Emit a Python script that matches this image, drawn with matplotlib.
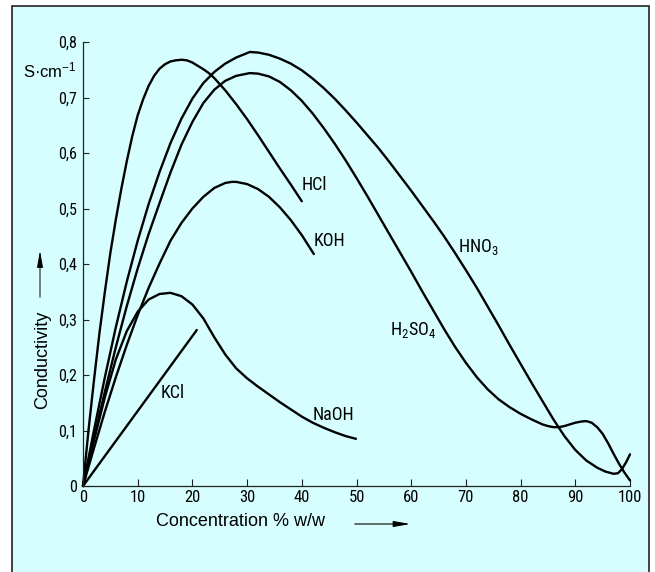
import matplotlib
matplotlib.use('Agg')
import matplotlib.pyplot as plt
from matplotlib.patches import Rectangle, FancyArrowPatch
from matplotlib import font_manager
from matplotlib.font_manager import FontProperties


def has_font(name):
    try:
        font_manager.findfont(name, fallback_to_default=False)
        return True
    except Exception:
        return False


def pick_narrow():
    for name in ['Liberation Sans Narrow', 'Arial Narrow', 'Roboto Condensed', 'Open Sans Condensed',
                 'Noto Sans Condensed', 'DejaVu Sans Condensed']:
        if has_font(name):
            return {'family': name}, name, True
    for fam in ['Roboto', 'Noto Sans', 'Open Sans', 'DejaVu Sans']:
        try:
            f = font_manager.findfont(FontProperties(family=fam, stretch='condensed'), fallback_to_default=False)
            if 'ondensed' in f or 'arrow' in f:
                return {'family': fam, 'stretch': 'condensed'}, fam, True
        except Exception:
            pass
    return {'family': 'Liberation Sans'}, 'Liberation Sans', False


NARROW_KW, NARROW_NAME, IS_NARROW = pick_narrow()
REG = 'Liberation Sans'
plt.rcParams['font.family'] = [REG, 'DejaVu Sans']
plt.rcParams['mathtext.fontset'] = 'custom'
plt.rcParams['mathtext.rm'] = NARROW_NAME
plt.rcParams['mathtext.it'] = NARROW_NAME
plt.rcParams['mathtext.default'] = 'regular'

# ---------------- data ----------------
hcl_x = [0, 1, 2, 3, 4, 5, 6, 7, 8, 9, 10, 11, 12, 13, 14, 15, 16, 17, 18, 19, 20, 21, 22, 23, 24, 25, 26,
         28, 30, 32, 34, 36, 38, 40]
hcl_y = [0, 0.1, 0.19, 0.275, 0.35, 0.42, 0.48, 0.535, 0.585, 0.63, 0.668, 0.697, 0.721, 0.739, 0.752, 0.76,
         0.765, 0.767, 0.768, 0.767, 0.763, 0.757, 0.751, 0.744, 0.735, 0.724, 0.713, 0.688, 0.661, 0.632,
         0.602, 0.572, 0.543, 0.513]

hno3_x = [0, 2, 4, 6, 8, 10, 12, 14, 16, 18, 20, 22, 24, 26, 28, 30.5, 32, 34, 36, 38, 40, 42, 44, 46, 48, 50,
          52, 54, 56, 58, 60, 62, 64, 66, 68, 70, 72, 74, 76, 78, 80, 82, 84, 86, 88, 90, 92, 94, 95.5, 97,
          97.8, 98.5, 99.3, 100]
hno3_y = [0, 0.1, 0.196, 0.286, 0.368, 0.442, 0.508, 0.566, 0.618, 0.662, 0.698, 0.726, 0.746, 0.761, 0.772,
          0.782, 0.781, 0.777, 0.77, 0.761, 0.749, 0.734, 0.717, 0.698, 0.677, 0.655, 0.632, 0.609, 0.584,
          0.558, 0.532, 0.505, 0.478, 0.45, 0.42, 0.389, 0.357, 0.323, 0.289, 0.254, 0.22, 0.186, 0.153, 0.12,
          0.09, 0.065, 0.046, 0.033, 0.026, 0.022, 0.023, 0.03, 0.043, 0.057]

h2so4_x = [0, 2, 4, 6, 8, 10, 12, 14, 16, 18, 20, 22, 24, 26, 28, 30.5, 32, 34, 36, 38, 40, 42, 44, 46, 48, 50,
           52, 54, 56, 58, 60, 62, 64, 66, 68, 70, 72, 74, 76, 78, 80, 82, 84, 85, 86, 87, 88, 89, 90, 91, 92,
           93, 94, 95, 96, 97, 98, 99, 100]
h2so4_y = [0, 0.086, 0.17, 0.25, 0.324, 0.392, 0.454, 0.51, 0.565, 0.615, 0.656, 0.69, 0.714, 0.73, 0.739,
           0.744, 0.743, 0.738, 0.728, 0.713, 0.694, 0.671, 0.645, 0.617, 0.587, 0.555, 0.522, 0.488, 0.454,
           0.42, 0.386, 0.351, 0.317, 0.283, 0.251, 0.222, 0.196, 0.174, 0.156, 0.142, 0.13, 0.12, 0.111,
           0.108, 0.106, 0.106, 0.108, 0.111, 0.114, 0.116, 0.117, 0.114, 0.106, 0.094, 0.077, 0.058, 0.04,
           0.024, 0.01]

koh_x = [0, 2, 4, 6, 8, 10, 12, 14, 16, 18, 20, 22, 24, 26, 27.2, 28, 30, 32, 34, 36, 38, 40, 42.2]
koh_y = [0, 0.068, 0.134, 0.196, 0.254, 0.308, 0.357, 0.401, 0.442, 0.474, 0.5, 0.521, 0.537, 0.546, 0.548,
         0.548, 0.544, 0.535, 0.521, 0.502, 0.479, 0.452, 0.418]

naoh_x = [0, 2, 4, 6, 8, 10, 12, 14, 16, 18, 20, 22, 24, 26, 28, 30, 32, 34, 36, 38, 40, 42, 44, 46, 48, 49.9]
naoh_y = [0, 0.082, 0.16, 0.228, 0.279, 0.314, 0.336, 0.346, 0.348, 0.342, 0.327, 0.302, 0.268, 0.237, 0.212,
          0.194, 0.179, 0.165, 0.151, 0.138, 0.125, 0.114, 0.105, 0.097, 0.09, 0.085]

kcl_x = [0, 20.8]
kcl_y = [0, 0.281]

series = [(hcl_x, hcl_y), (hno3_x, hno3_y), (h2so4_x, h2so4_y), (koh_x, koh_y), (naoh_x, naoh_y), (kcl_x, kcl_y)]

curve_labels = ['HCl', 'KOH', 'HNO$_3$', 'H$_2$SO$_4$', 'KCl', 'NaOH']
label_pos = [(40, 0.542), (42.2, 0.441), (68.6, 0.43), (56.1, 0.281), (14.1, 0.168), (41.9, 0.128)]

x_ticks = [0, 10, 20, 30, 40, 50, 60, 70, 80, 90, 100]
x_tick_labels = ['0', '10', '20', '30', '40', '50', '60', '70', '80', '90', '100']
y_ticks = [0, 0.1, 0.2, 0.3, 0.4, 0.5, 0.6, 0.7, 0.8]
y_tick_labels = ['0', '0,1', '0,2', '0,3', '0,4', '0,5', '0,6', '0,7', '0,8']

# ---------------- figure ----------------
W, H = 655, 572
fig = plt.figure(figsize=(W / 100, H / 100), dpi=100, facecolor='white')
BG = '#d6fefe'
fig.patches.append(Rectangle((12 / W, -0.02), (649 - 12) / W, 1.02 - 6 / H, transform=fig.transFigure,
                             facecolor=BG, edgecolor='#222222', lw=1.2, zorder=-10))

ax = fig.add_axes([83 / W, 1 - 486 / H, (630 - 83) / W, (486 - 42) / H])
ax.set_zorder(1)
ax.set_facecolor('none')
ax.set_xlim(0, 100)
ax.set_ylim(0, 0.8)

for xs, ys in series:
    ax.plot(xs, ys, color='black', lw=1.7, clip_on=False, solid_capstyle='round', solid_joinstyle='round')

lab_size = 13 if IS_NARROW else 12.5
for lab, (lx, ly) in zip(curve_labels, label_pos):
    ax.text(lx, ly, lab, fontsize=lab_size, ha='left', va='center', color='black', **NARROW_KW)

for s in ['top', 'right']:
    ax.spines[s].set_visible(False)
for s in ['left', 'bottom']:
    ax.spines[s].set_linewidth(0.9)
    ax.spines[s].set_color('#222222')

ax.set_xticks(x_ticks)
ax.set_xticklabels(x_tick_labels, fontsize=12 if IS_NARROW else 11.5, **NARROW_KW)
ax.set_yticks(y_ticks)
ax.set_yticklabels(y_tick_labels, fontsize=11.5 if IS_NARROW else 11, **NARROW_KW)
ax.tick_params(axis='x', direction='in', length=5, width=0.8, pad=3, color='#222222')
ax.tick_params(axis='y', direction='in', length=4.5, width=0.8, pad=4.5, color='#222222')

# unit label
ax.text(-1.1, 0.748, 'S·cm$^{-1}$', fontsize=12, ha='right', va='center', family=[REG, 'DejaVu Sans'])

# axis titles
fig.text(156 / W, 1 - 522 / H, 'Concentration % w/w', fontsize=13, ha='left', va='center')
fig.text(43 / W, 1 - 360 / H, 'Conductivity', fontsize=13, ha='center', va='center', rotation=90)

# arrows
fig.patches.append(FancyArrowPatch((352 / W, 1 - 524 / H), (413 / W, 1 - 524 / H), transform=fig.transFigure,
                                   arrowstyle='-|>,head_length=5,head_width=0.9', lw=0.8, color='black',
                                   mutation_scale=2))
fig.patches.append(FancyArrowPatch((40 / W, 1 - 300 / H), (40 / W, 1 - 248 / H), transform=fig.transFigure,
                                   arrowstyle='-|>,head_length=5,head_width=0.9', lw=0.7, color='black',
                                   mutation_scale=2))

fig.savefig('out.png', dpi=100, facecolor='white')
